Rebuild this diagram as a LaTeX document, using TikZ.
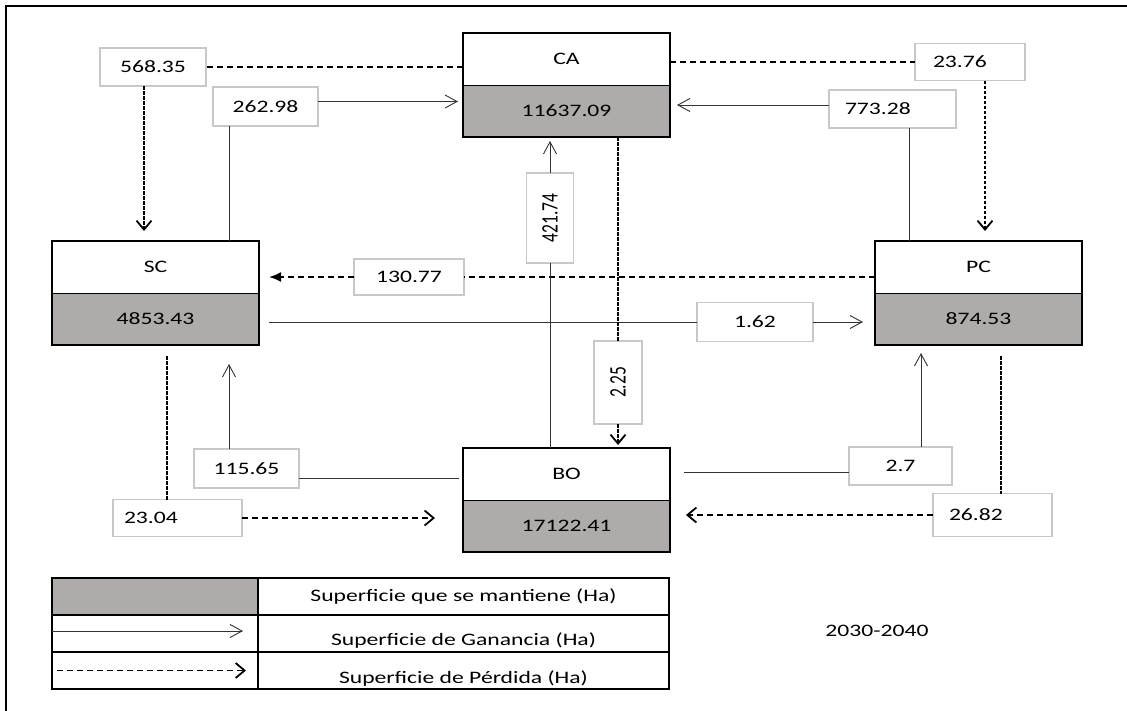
\documentclass[tikz,border=0pt]{standalone}
\usepackage{fontspec}
\setmainfont{Carlito}[FakeStretch=1.35]
\newfontfamily\turnedfont{Carlito}[FakeStretch=0.74]
\usetikzlibrary{arrows.meta,positioning}
\definecolor{keepGray}{RGB}{175,171,170}
\definecolor{labelBorder}{RGB}{200,200,200}
\newcommand\boxLineWidth{2.6pt}
\newcommand\gainColor{black!80}
\newcommand\gainLineWidth{0.9pt}
\newcommand\lossLineWidth{1.8pt}
\newcommand\tableLineWidth{1.4pt}

\tikzset{
    classHead/.style={draw=black, line width=1pt, minimum width=207pt, minimum height=52pt, inner sep=0pt, outer sep=0pt},
    classValue/.style={classHead, fill=keepGray},
    classFrame/.style={draw=black, line width=\boxLineWidth},
    valueLabel/.style={draw=labelBorder, line width=1.2pt, fill=white, inner sep=0pt, outer sep=0pt, minimum height=38pt},
    leftLabel/.style 2 args={valueLabel, align=left, inner xsep=#1, text width=#2},
    turnedLabel/.style={valueLabel, rotate=90, font=\turnedfont\fontsize{23.6}{26}\selectfont},
    gainLine/.style={draw=\gainColor, line width=\gainLineWidth},
    gainTip/.style={-{Straight Barb[length=12pt,width=13pt]}},
    lossH/.style={draw=black, line width=\lossLineWidth, dash pattern=on 6pt off 4pt},
    lossV/.style={draw=black, line width=\lossLineWidth, dash pattern=on 3.5pt off 1.5pt},
    lossTip/.style={-{Straight Barb[length=9pt,width=15pt]}},
    filledTip/.style={-{Latex[length=12pt,width=10pt]}},
    legendCell/.style={draw=black, line width=\tableLineWidth, minimum height=37pt, inner sep=0pt, outer sep=0pt},
}

\begin{document}
\begin{tikzpicture}[x=1pt, y=-1pt, font=\fontsize{17.5}{20}\selectfont]

    \useasboundingbox (0,0) rectangle (1127,710);
    \clip (0,0) rectangle (1127,710);
    \draw [line width=2pt] (6,6) rectangle (1140,720);

%    land classes
    \node (CAt) [classHead] at (566.5,59) {CA};
    \node (CAb) [classValue, anchor=north] at (CAt.south) {11637.09};
    \draw [classFrame] (CAt.north west) rectangle (CAb.south east);

    \node (SCt) [classHead] at (155.5,267) {SC};
    \node (SCb) [classValue, anchor=north] at (SCt.south) {4853.43};
    \draw [classFrame] (SCt.north west) rectangle (SCb.south east);

    \node (PCt) [classHead] at (978.5,267) {PC};
    \node (PCb) [classValue, anchor=north] at (PCt.south) {874.53};
    \draw [classFrame] (PCt.north west) rectangle (PCb.south east);

    \node (BOt) [classHead] at (566.5,474) {BO};
    \node (BOb) [classValue, anchor=north] at (BOt.south) {17122.41};
    \draw [classFrame] (BOt.north west) rectangle (BOb.south east);

%    value labels
    \node (L568) [valueLabel, minimum width=106pt] at (153,67) {568.35};
    \node (L262) [valueLabel, minimum width=105pt, minimum height=39pt] at (265.5,106.5) {262.98};
    \node (L2376) [leftLabel={18pt}{74pt}, minimum height=37pt] at (970,62) {23.76};
    \node (L773) [leftLabel={16pt}{95pt}] at (892.5,109) {773.28};
    \node (L130) [valueLabel, minimum width=110pt, minimum height=36pt] at (409,277) {130.77};
    \node (L162) [valueLabel, minimum width=116pt, minimum height=39pt] at (755,322) {1.62};
    \node (L421) [turnedLabel, minimum width=90pt, minimum height=47pt] at (550,218) {421.74};
    \node (L225) [turnedLabel, minimum width=83pt, minimum height=48pt] at (618,382.5) {2.25};
    \node (L115) [valueLabel, minimum width=105pt, minimum height=39pt] at (246.5,468.5) {115.65};
    \node (L2304) [leftLabel={11pt}{107pt}, minimum height=37pt] at (177.5,518) {23.04};
    \node (L27) [valueLabel, minimum width=103pt] at (900.5,466) {2.7};
    \node (L2682) [leftLabel={16pt}{87pt}, minimum height=43pt] at (992.5,515) {26.82};

%    connector ends beside the label centres
    \coordinate (c568) at ([xshift=-9pt]L568.south);
    \coordinate (c262s) at ([xshift=-36.5pt]L262.south);
    \coordinate (c262e) at ([yshift=5pt]L262.east);
    \coordinate (c2376) at ([xshift=15pt]L2376.south);
    \coordinate (c773s) at ([xshift=16.5pt]L773.south);
    \coordinate (c773w) at ([yshift=4pt]L773.west);
    \coordinate (c115e) at ([yshift=-10pt]L115.east);
    \coordinate (c115n) at ([xshift=-17.5pt]L115.north);
    \coordinate (c2304) at ([xshift=-10.5pt]L2304.north);
    \coordinate (c27w) at ([yshift=-6pt]L27.west);
    \coordinate (c27n) at ([xshift=20.5pt]L27.north);
    \coordinate (c2682) at ([xshift=8.5pt]L2682.north);

%Part One: CA and SC
    \draw [lossH] (CAt.west |- L568.east) -- (L568.east);
    \draw [lossV, lossTip, shorten >=10pt] (c568) -- (c568 |- SCt.north);
    \draw [gainLine] (c262s |- SCt.north) -- (c262s);
    \draw [gainLine, gainTip, shorten >=5pt] (c262e) -- (c262e -| CAb.west);

%Part Two: CA and PC
    \draw [lossH] (CAt.east |- L2376.west) -- (L2376.west);
    \draw [lossV, lossTip, shorten >=10pt] (c2376) -- (c2376 |- PCt.north);
    \draw [gainLine] (c773s |- PCt.north) -- (c773s);
    \draw [gainLine, gainTip, shorten >=7pt] (c773w) -- (c773w -| CAb.east);

%Part Three: SC and PC
    \draw [lossH] (PCt.west |- L130.east) -- (L130.east);
    \draw [lossH, filledTip, shorten >=10pt] (L130.west) -- (L130.west -| SCt.east);
    \draw [gainLine, shorten <=10pt] (SCb.east |- L162.west) -- (L162.west);
    \draw [gainLine, gainTip, shorten >=12pt] (L162.east) -- (L162.east -| PCb.west);

%Part Four: CA and BO
    \draw [gainLine] (L421.west |- BOt.north) -- (L421.west);
    \draw [gainLine, gainTip, shorten >=4pt] (L421.east) -- (L421.east |- CAb.south);
    \draw [lossV] (L225.east |- CAb.south) -- (L225.east);
    \draw [lossV, lossTip, shorten >=3pt] (L225.west) -- (L225.west |- BOt.north);

%Part Five: SC and BO
    \draw [gainLine, shorten <=4pt] (c115e -| BOt.west) -- (c115e);
    \draw [gainLine, gainTip, shorten >=19pt] (c115n) -- (c115n |- SCb.south);
    \draw [lossV, shorten <=11pt] (c2304 |- SCb.south) -- (c2304);
    \draw [lossH, lossTip, shorten >=28pt] (L2304.east) -- (L2304.east -| BOb.west);

%Part Six: PC and BO
    \draw [gainLine, shorten <=14pt] (c27w -| BOt.east) -- (c27w);
    \draw [gainLine, gainTip, shorten >=8pt] (c27n) -- (c27n |- PCb.south);
    \draw [lossV, shorten <=11pt] (c2682 |- PCb.south) -- (c2682);
    \draw [lossH, lossTip, shorten >=16pt] (L2682.west) -- (L2682.west -| BOb.east);

%    legend
    \node (legKeep) [legendCell, fill=keepGray, minimum width=206pt] at (155,596.5) {};
    \node (legKeepTxt) [legendCell, minimum width=411pt] at (463.5,596.5) {Superficie que se mantiene (Ha)};
    \node (legGain) [legendCell, minimum width=206pt] at (155,633.5) {};
    \node (legGainTxt) [legendCell, minimum width=411pt] at (463.5,633.5) {\raisebox{-12pt}[0pt][0pt]{Superficie de Ganancia (Ha)}};
    \node (legLoss) [legendCell, minimum width=206pt] at (155,670.5) {};
    \node (legLossTxt) [legendCell, minimum width=411pt] at (463.5,670.5) {\raisebox{-13pt}[0pt][0pt]{Superficie de Pérdida (Ha)}};
    \draw [line width=1.8pt] (legKeep.north west) rectangle (legLossTxt.south east);
    \draw [gainLine, gainTip, shorten >=15pt] ([yshift=2.5pt]legGain.west) -- ([yshift=2.5pt]legGain.east);
    \draw [lossH, lossTip, shorten <=5pt, shorten >=12pt] (legLoss.west) -- (legLoss.east);

    \node (period) at (877,631) {2030-2040};

\end{tikzpicture}
\end{document}
